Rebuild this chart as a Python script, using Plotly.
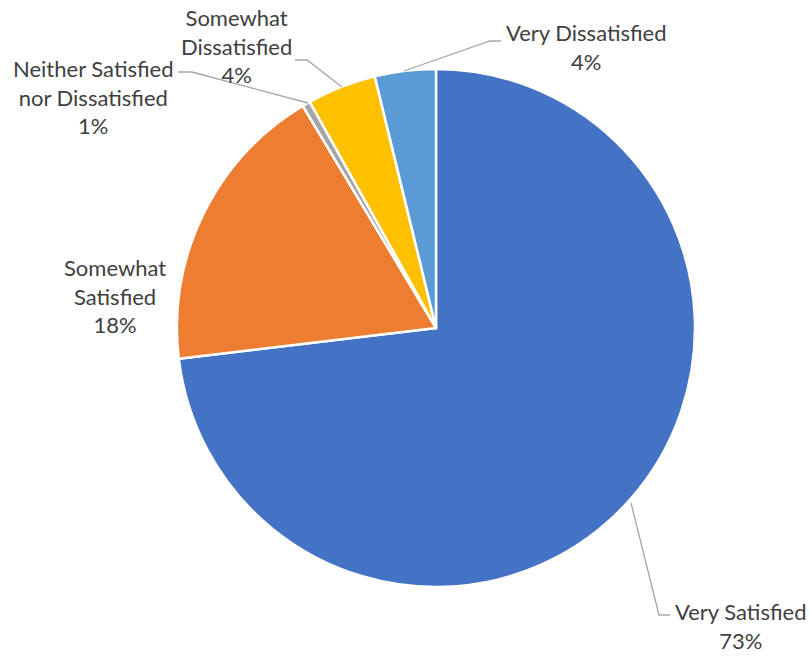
import plotly.graph_objects as go

categories = ["Very Satisfied", "Somewhat Satisfied", "Neither Satisfied nor Dissatisfied",
              "Somewhat Dissatisfied", "Very Dissatisfied"]
values = [73.1, 18.3, 0.5, 4.3, 3.8]
label_lines = [["Very Satisfied"], ["Somewhat", "Satisfied"], ["Neither Satisfied", "nor Dissatisfied"],
               ["Somewhat", "Dissatisfied"], ["Very Dissatisfied"]]
colors = ["#4472C4", "#ED7D31", "#A5A5A5", "#FFC000", "#5B9BD5"]

W, H = 810, 657
cx, cy, r = 436, 328, 259

# label centre positions (pixel) and leader lines
label_pos = [(740, 626), (115, 296), (93, 97), (236, 46), (586, 47)]
leaders = [
    [(631, 503), (659, 615), (670, 615)],
    None,
    [(178, 72), (192, 72), (308, 103)],
    [(295, 60), (307, 60), (342, 87)],
    [(404, 71), (490, 41), (501, 41)],
]

total = sum(values)
fig = go.Figure()
fig.add_trace(go.Pie(
    labels=categories, values=values, sort=False, direction="clockwise", rotation=0,
    marker=dict(colors=colors, line=dict(color="white", width=2.5)),
    textinfo="none", hoverinfo="label+percent", showlegend=False,
    domain=dict(x=[(cx - r) / W, (cx + r) / W], y=[1 - (cy + r) / H, 1 - (cy - r) / H]),
))

for lines, v, (lx, ly), ld in zip(label_lines, values, label_pos, leaders):
    txt = "<br>".join(lines + [f"{round(v / total * 100 + 1e-9):.0f}%"])
    fig.add_annotation(x=lx, y=ly, xref="x", yref="y", text=txt, showarrow=False,
                       font=dict(family="Lato", size=22, color="#404040"), align="center")
    if ld:
        path = "M " + " L ".join(f"{px},{py}" for px, py in ld)
        fig.add_shape(type="path", path=path, xref="x", yref="y",
                      line=dict(color="#A6A6A6", width=1.3))

fig.update_layout(
    width=W, height=H, margin=dict(l=0, r=0, t=0, b=0),
    paper_bgcolor="white", plot_bgcolor="rgba(0,0,0,0)",
    xaxis=dict(range=[0, W], visible=False, fixedrange=True),
    yaxis=dict(range=[H, 0], visible=False, fixedrange=True),
)
fig.write_html("out.html", config={"displayModeBar": False},
               post_script="document.body.style.margin='0';document.body.style.overflow='hidden';")
